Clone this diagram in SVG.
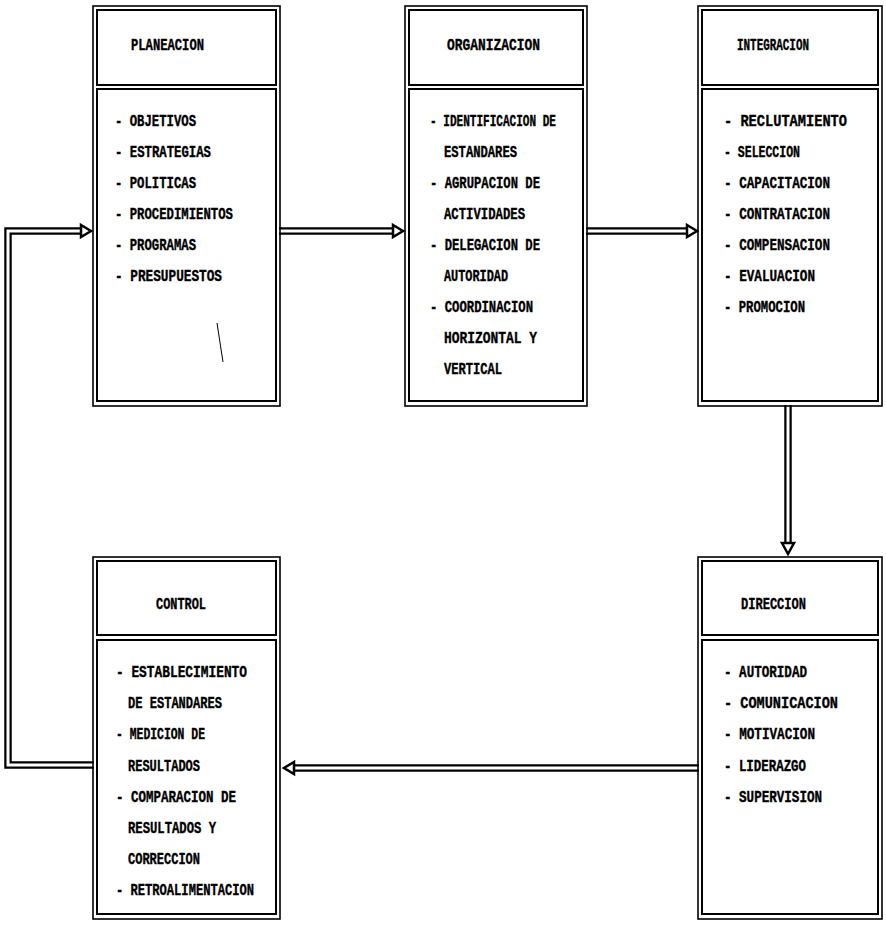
<svg xmlns="http://www.w3.org/2000/svg" width="886" height="929" viewBox="0 0 886 929">
<style>
.outer{fill:none;stroke:#000;stroke-width:1.6}
.inner{fill:none;stroke:#000;stroke-width:2}
.t{font-family:"Liberation Mono","DejaVu Sans Mono",monospace;font-weight:bold;font-size:17px;fill:#000;stroke:#000;stroke-width:0.4}
.shaft{fill:none;stroke:#000;stroke-width:7.5}
.gap{fill:none;stroke:#fff;stroke-width:3}
.head{fill:#fff;stroke:#000;stroke-width:2.5;stroke-linejoin:miter}
</style>
<rect width="886" height="929" fill="#fff"/>
<g id="connectors">
  <path class="shaft" d="M279,231 H393"/><path class="gap" d="M279,231 H395"/>
  <polygon class="head" points="393,225 403,231 393,237"/>
  <path class="shaft" d="M586,231 H687"/><path class="gap" d="M586,231 H689"/>
  <polygon class="head" points="687,225 697,231 687,237"/>
  <path class="shaft" d="M788,405 V543"/><path class="gap" d="M788,405 V545"/>
  <polygon class="head" points="782,543 788,554 794,543"/>
  <path class="shaft" d="M699,768 H294"/><path class="gap" d="M699,768 H292"/>
  <polygon class="head" points="294,762 284,768 294,774"/>
  <path class="shaft" d="M94,765 H8 V231 H81"/><path class="gap" d="M94,765 H8 V231 H83"/>
  <polygon class="head" points="81,225 91,231 81,237"/>
</g>
<g id="planeacion">
  <rect class="outer" x="93" y="6" width="187" height="400"/>
  <rect class="inner" x="97" y="10" width="179" height="75"/>
  <rect class="inner" x="97" y="89" width="179" height="312"/>
  <text class="t" x="131" y="50" textLength="73" lengthAdjust="spacingAndGlyphs">PLANEACION</text>
  <text class="t" x="115" y="126" textLength="81" lengthAdjust="spacingAndGlyphs">- OBJETIVOS</text>
  <text class="t" x="115" y="157" textLength="96" lengthAdjust="spacingAndGlyphs">- ESTRATEGIAS</text>
  <text class="t" x="115" y="188" textLength="81" lengthAdjust="spacingAndGlyphs">- POLITICAS</text>
  <text class="t" x="115" y="219" textLength="118" lengthAdjust="spacingAndGlyphs">- PROCEDIMIENTOS</text>
  <text class="t" x="115" y="250" textLength="81" lengthAdjust="spacingAndGlyphs">- PROGRAMAS</text>
  <text class="t" x="115" y="281" textLength="107" lengthAdjust="spacingAndGlyphs">- PRESUPUESTOS</text>
  <line x1="217" y1="323" x2="223" y2="362" stroke="#000" stroke-width="1"/>
</g>
<g id="organizacion">
  <rect class="outer" x="405" y="6" width="182" height="400"/>
  <rect class="inner" x="409" y="10" width="174" height="75"/>
  <rect class="inner" x="409" y="89" width="174" height="312"/>
  <text class="t" x="447" y="50" textLength="93" lengthAdjust="spacingAndGlyphs">ORGANIZACION</text>
  <text class="t" x="430" y="126" textLength="126" lengthAdjust="spacingAndGlyphs">- IDENTIFICACION DE</text>
  <text class="t" x="444" y="157" textLength="73" lengthAdjust="spacingAndGlyphs">ESTANDARES</text>
  <text class="t" x="430" y="188" textLength="110" lengthAdjust="spacingAndGlyphs">- AGRUPACION DE</text>
  <text class="t" x="444" y="219" textLength="81" lengthAdjust="spacingAndGlyphs">ACTIVIDADES</text>
  <text class="t" x="430" y="250" textLength="110" lengthAdjust="spacingAndGlyphs">- DELEGACION DE</text>
  <text class="t" x="444" y="281" textLength="64" lengthAdjust="spacingAndGlyphs">AUTORIDAD</text>
  <text class="t" x="430" y="312" textLength="103" lengthAdjust="spacingAndGlyphs">- COORDINACION</text>
  <text class="t" x="444" y="343" textLength="93" lengthAdjust="spacingAndGlyphs">HORIZONTAL Y</text>
  <text class="t" x="444" y="374" textLength="58" lengthAdjust="spacingAndGlyphs">VERTICAL</text>
</g>
<g id="integracion">
  <rect class="outer" x="698" y="6" width="184" height="400"/>
  <rect class="inner" x="702" y="10" width="176" height="75"/>
  <rect class="inner" x="702" y="89" width="176" height="312"/>
  <text class="t" x="737" y="50" textLength="72" lengthAdjust="spacingAndGlyphs">INTEGRACION</text>
  <text class="t" x="724" y="126" textLength="123" lengthAdjust="spacingAndGlyphs">- RECLUTAMIENTO</text>
  <text class="t" x="724" y="157" textLength="76" lengthAdjust="spacingAndGlyphs">- SELECCION</text>
  <text class="t" x="724" y="188" textLength="106" lengthAdjust="spacingAndGlyphs">- CAPACITACION</text>
  <text class="t" x="724" y="219" textLength="106" lengthAdjust="spacingAndGlyphs">- CONTRATACION</text>
  <text class="t" x="724" y="250" textLength="106" lengthAdjust="spacingAndGlyphs">- COMPENSACION</text>
  <text class="t" x="724" y="281" textLength="91" lengthAdjust="spacingAndGlyphs">- EVALUACION</text>
  <text class="t" x="724" y="312" textLength="81" lengthAdjust="spacingAndGlyphs">- PROMOCION</text>
</g>
<g id="control">
  <rect class="outer" x="93" y="557" width="187" height="362"/>
  <rect class="inner" x="97" y="561" width="179" height="74"/>
  <rect class="inner" x="97" y="640" width="179" height="274"/>
  <text class="t" x="156" y="609" textLength="50" lengthAdjust="spacingAndGlyphs">CONTROL</text>
  <text class="t" x="116" y="677" textLength="131" lengthAdjust="spacingAndGlyphs">- ESTABLECIMIENTO</text>
  <text class="t" x="128" y="708" textLength="94" lengthAdjust="spacingAndGlyphs">DE ESTANDARES</text>
  <text class="t" x="116" y="739" textLength="89" lengthAdjust="spacingAndGlyphs">- MEDICION DE</text>
  <text class="t" x="128" y="771" textLength="72" lengthAdjust="spacingAndGlyphs">RESULTADOS</text>
  <text class="t" x="116" y="802" textLength="120" lengthAdjust="spacingAndGlyphs">- COMPARACION DE</text>
  <text class="t" x="128" y="833" textLength="88" lengthAdjust="spacingAndGlyphs">RESULTADOS Y</text>
  <text class="t" x="128" y="864" textLength="72" lengthAdjust="spacingAndGlyphs">CORRECCION</text>
  <text class="t" x="116" y="895" textLength="138" lengthAdjust="spacingAndGlyphs">- RETROALIMENTACION</text>
</g>
<g id="direccion">
  <rect class="outer" x="698" y="557" width="184" height="362"/>
  <rect class="inner" x="702" y="561" width="176" height="74"/>
  <rect class="inner" x="702" y="640" width="176" height="274"/>
  <text class="t" x="741" y="609" textLength="65" lengthAdjust="spacingAndGlyphs">DIRECCION</text>
  <text class="t" x="724" y="677" textLength="83" lengthAdjust="spacingAndGlyphs">- AUTORIDAD</text>
  <text class="t" x="724" y="708" textLength="114" lengthAdjust="spacingAndGlyphs">- COMUNICACION</text>
  <text class="t" x="724" y="739" textLength="91" lengthAdjust="spacingAndGlyphs">- MOTIVACION</text>
  <text class="t" x="724" y="771" textLength="82" lengthAdjust="spacingAndGlyphs">- LIDERAZGO</text>
  <text class="t" x="724" y="802" textLength="98" lengthAdjust="spacingAndGlyphs">- SUPERVISION</text>
</g>
</svg>
